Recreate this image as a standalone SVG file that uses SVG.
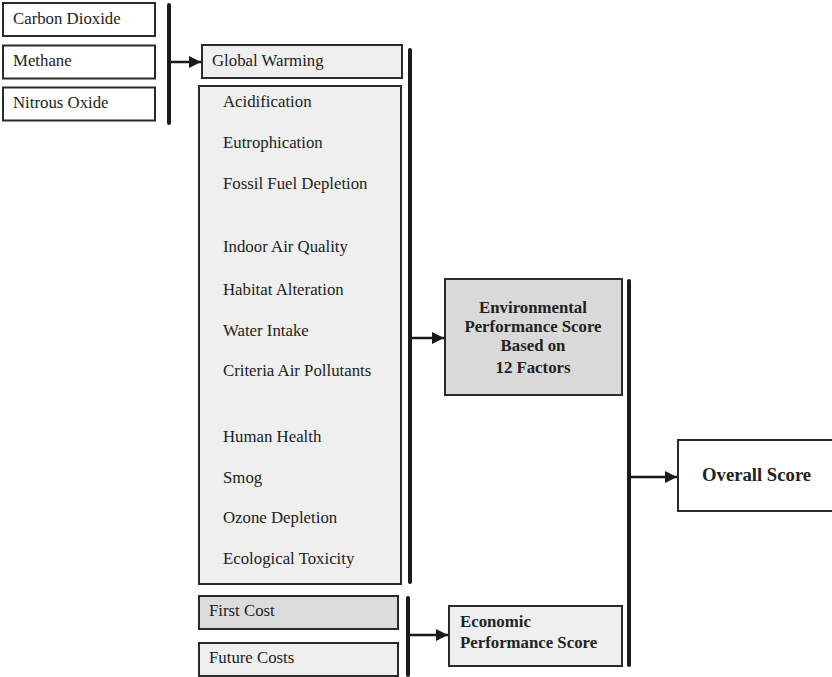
<svg xmlns="http://www.w3.org/2000/svg" width="832" height="677" viewBox="0 0 832 677">
  <defs>
    <marker id="arrow" viewBox="0 0 10 10" refX="10" refY="5" markerWidth="12" markerHeight="12" markerUnits="userSpaceOnUse" orient="auto">
      <path d="M0,0 L10,5 L0,10 Z" fill="#1a1a1a"/>
    </marker>
    <style>
      text { font-family: "Liberation Serif", "Times New Roman", serif; font-size: 16.8px; fill: #222; }
      .b { font-weight: bold; }
      .big { font-size: 18.7px; }
      .box { stroke: #2a2a2a; stroke-width: 2; }
      .white { fill: #ffffff; }
      .light { fill: #eeefee; }
      .mid { fill: #dcdcdc; }
      .bar { stroke: #1a1a1a; stroke-width: 4; stroke-linecap: round; fill: none; }
      .link { stroke: #1a1a1a; stroke-width: 2.5; fill: none; marker-end: url(#arrow); }
    </style>
  </defs>
  <rect width="832" height="677" fill="#ffffff"/>

  <!-- greenhouse gases -->
  <g id="carbon-dioxide">
    <rect class="box white" x="3" y="3" width="152" height="33"/>
    <text x="13" y="24">Carbon Dioxide</text>
  </g>
  <g id="methane">
    <rect class="box white" x="3" y="45.5" width="152" height="33"/>
    <text x="13" y="66">Methane</text>
  </g>
  <g id="nitrous-oxide">
    <rect class="box white" x="3" y="87.5" width="152" height="33"/>
    <text x="13" y="108">Nitrous Oxide</text>
  </g>

  <!-- environmental factors -->
  <g id="global-warming">
    <rect class="box light" x="202" y="45" width="200" height="33"/>
    <text x="212" y="66">Global Warming</text>
  </g>
  <g id="impact-factors">
    <rect class="box light" x="199" y="86" width="202" height="498"/>
    <text x="223" y="107">Acidification</text>
    <text x="223" y="148">Eutrophication</text>
    <text x="223" y="189">Fossil Fuel Depletion</text>
    <text x="223" y="252">Indoor Air Quality</text>
    <text x="223" y="295">Habitat Alteration</text>
    <text x="223" y="336">Water Intake</text>
    <text x="223" y="376">Criteria Air Pollutants</text>
    <text x="223" y="442">Human Health</text>
    <text x="223" y="483">Smog</text>
    <text x="223" y="523">Ozone Depletion</text>
    <text x="223" y="564">Ecological Toxicity</text>
  </g>

  <!-- cost factors -->
  <g id="first-cost">
    <rect class="box mid" x="199" y="596" width="199" height="33"/>
    <text x="209" y="616">First Cost</text>
  </g>
  <g id="future-costs">
    <rect class="box light" x="199" y="643" width="199" height="33"/>
    <text x="209" y="663">Future Costs</text>
  </g>

  <!-- scores -->
  <g id="environmental-score">
    <rect class="box" fill="#d9d9d9" x="445" y="279" width="177" height="116"/>
    <text class="b" x="533" y="313" text-anchor="middle">Environmental</text>
    <text class="b" x="533" y="332" text-anchor="middle">Performance Score</text>
    <text class="b" x="533" y="351" text-anchor="middle">Based on</text>
    <text class="b" x="533" y="373" text-anchor="middle">12 Factors</text>
  </g>
  <g id="economic-score">
    <rect class="box light" x="449" y="606" width="173" height="60"/>
    <text class="b" x="460" y="627">Economic</text>
    <text class="b" x="460" y="648">Performance Score</text>
  </g>
  <g id="overall-score">
    <rect class="box white" x="678" y="440" width="160" height="71"/>
    <text class="b big" x="702" y="481">Overall Score</text>
  </g>

  <!-- connectors -->
  <g id="connectors">
    <line class="bar" x1="169" y1="5" x2="169" y2="123"/>
    <line class="link" x1="171" y1="62" x2="201" y2="62"/>

    <line class="bar" x1="410" y1="50" x2="410" y2="582"/>
    <line class="link" x1="412" y1="338" x2="444" y2="338"/>

    <line class="bar" x1="408" y1="598" x2="408" y2="675"/>
    <line class="link" x1="410" y1="635" x2="448" y2="635"/>

    <line class="bar" x1="629" y1="281" x2="629" y2="665"/>
    <line class="link" x1="631" y1="477" x2="677" y2="477"/>
  </g>
</svg>
